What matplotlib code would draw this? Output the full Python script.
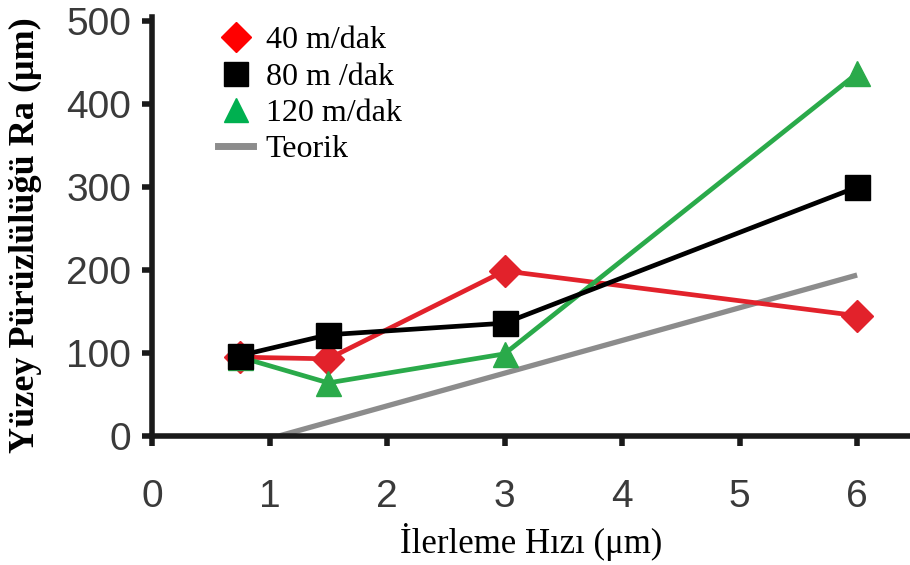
import matplotlib
matplotlib.use("Agg")
import numpy as np
from matplotlib import pyplot as plt
from matplotlib.lines import Line2D

# data
ilerleme = [0.75, 1.5, 3, 6]
ra_40 = [95, 93, 199, 145]
ra_80 = [97, 122, 136, 300]
ra_120 = [95, 64, 99, 437]
teorik_x = [0.75, 1.08, 6]
teorik_y = [0, 0, 194]

xticks = [0, 1, 2, 3, 4, 5, 6]
yticks = [0, 100, 200, 300, 400, 500]

red = '#e2222b'
green = '#2aaa4a'
gray = '#8c8c8c'

fig = plt.figure(figsize=(9.1, 5.65), dpi=100)
ax = fig.add_axes((152 / 910, 1 - 436 / 565, 1 - 152 / 910, (436 - 17) / 565))

ax.plot(teorik_x, teorik_y, color=gray, lw=3.8, solid_capstyle='butt', zorder=2)
ax.plot(ilerleme, ra_40, color=red, lw=3.4, marker='D', ms=16, zorder=3)
ax.plot(ilerleme, ra_120, color=green, lw=3.4, marker='^', ms=18, zorder=4)
ax.plot(ilerleme, ra_80, color='black', lw=3.4, marker='s', ms=18, zorder=5)

ax.set_xlim(0, 6.45)
ax.set_ylim(0, 505)
ax.set_xticks(xticks)
ax.set_yticks(yticks)

for s in ['top', 'right']:
    ax.spines[s].set_visible(False)
for s in ['left', 'bottom']:
    ax.spines[s].set_linewidth(4)
    ax.spines[s].set_color('#1a1a1a')

ax.tick_params(axis='both', length=7, width=4, color='#1a1a1a',
               labelsize=28, labelcolor='#3a3a3a')
ax.tick_params(axis='x', pad=24)
ax.tick_params(axis='y', pad=8)
for lab in ax.get_xticklabels() + ax.get_yticklabels():
    lab.set_family('Liberation Sans')

ax.set_xlabel('İlerleme Hızı (μm)', family='Liberation Serif', fontsize=25, labelpad=6)
ax.set_ylabel('Yüzey Pürüzlülüğü Ra (μm)', family='Liberation Serif', fontsize=26,
              fontweight='bold', labelpad=6)
ax.yaxis.set_label_coords(-0.145, 0.48)

handles = [
    Line2D([], [], ls='none', marker='D', color='#ff0000', ms=15),
    Line2D([], [], ls='none', marker='s', color='black', ms=17),
    Line2D([], [], ls='none', marker='^', color='#00b050', ms=17),
    Line2D([], [], color=gray, lw=5),
]
labels = ['40 m/dak', '80 m /dak', '120 m/dak', 'Teorik']
leg = ax.legend(handles, labels, loc='upper left', bbox_to_anchor=(202 / 910, 1 - 10 / 565),
                bbox_transform=fig.transFigure, frameon=False,
                prop={'family': 'Liberation Serif', 'size': 23},
                handlelength=1.1, handletextpad=0.4, labelspacing=0.22, borderpad=0)

fig.savefig('out.png', dpi=100)
